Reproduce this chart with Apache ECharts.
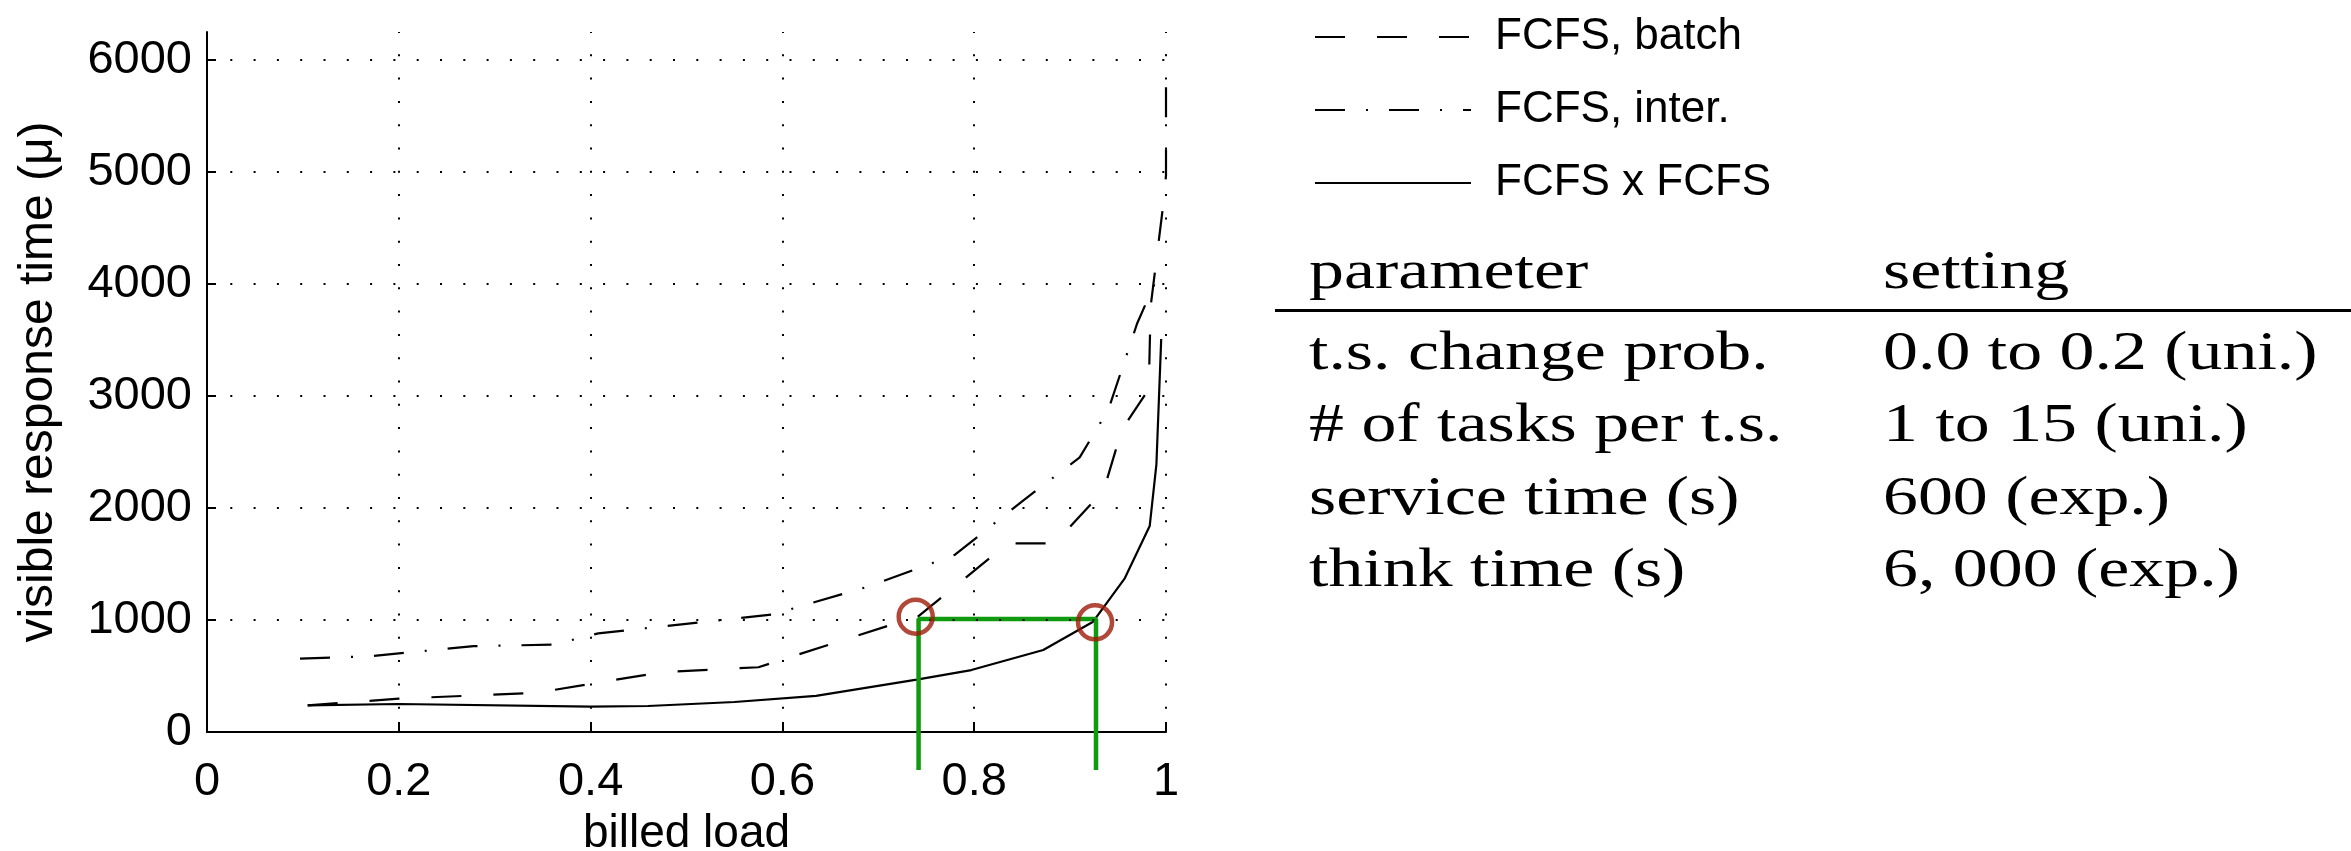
<!DOCTYPE html>
<html><head><meta charset="utf-8">
<script src="https://cdn.jsdelivr.net/npm/echarts@6/dist/echarts.min.js"></script>
<style>html,body{margin:0;padding:0;background:#fff;}#c{width:2351px;height:851px;}</style>
</head><body><div id="c"></div>
<script>
// ---- tick values / labels ----
const xTicks = [0, 0.2, 0.4, 0.6, 0.8, 1];
const yTicks = [0, 1000, 2000, 3000, 4000, 5000, 6000];
const xAxisTitle = 'billed load';
const yAxisTitle = 'visible response time (\u03bc)';

// ---- series ----
const seriesNames = ['FCFS, batch', 'FCFS, inter.', 'FCFS x FCFS'];
const batchLoad = [0.105, 0.2, 0.343, 0.475, 0.575, 0.742, 0.835, 0.884, 0.935, 0.954, 0.982, 0.984, 0.997, 1.0, 1.0];
const batchTime = [238, 298, 349, 535, 578, 1035, 1685, 1685, 2157, 2700, 3060, 3800, 4700, 4970, 6050];
const interLoad = [0.097, 0.17, 0.278, 0.361, 0.408, 0.59, 0.69, 0.78, 0.85, 0.91, 0.94, 0.97, 0.988];
const interTime = [655, 677, 766, 780, 881, 1050, 1300, 1583, 2060, 2452, 2880, 3650, 4000];
const fcfsLoad = [0.105, 0.2, 0.4, 0.46, 0.55, 0.635, 0.74, 0.797, 0.872, 0.924, 0.957, 0.983, 0.990, 0.995];
const fcfsTime = [238, 250, 226, 232, 268, 322, 468, 553, 732, 985, 1372, 1839, 2390, 3509];

// ---- annotations ----
const guideLoad = [0.742, 0.742, 0.927, 0.927];
const guideTime = [-340, 1010, 1010, -340];
const circleLoad = [0.739, 0.926];
const circleTime = [1030, 979];

// ---- side table ----
const tableHeader = ['parameter', 'setting'];
const paramNames = ['t.s. change prob.', '# of tasks per t.s.', 'service time (s)', 'think time (s)'];
const paramSettings = ['0.0 to 0.2 (uni.)', '1 to 15 (uni.)', '600 (exp.)', '6, 000 (exp.)'];

const zip = (a, b) => a.map((v, i) => [v, b[i]]);
const SANS = 'Liberation Sans';

const tableGraphics = [];
const col1 = 1309, col2 = 1883, scaleX = 1.27, tFont = '55px "Liberation Serif"';
function addText(t, x, baseline) {
  tableGraphics.push({
    type: 'text', x: x, y: baseline - 18.5, scaleX: scaleX, silent: true,
    style: { text: t, font: tFont, fill: '#000', align: 'left', verticalAlign: 'middle',
             textAlign: 'left', textVerticalAlign: 'middle' }
  });
}
addText(tableHeader[0], col1, 292);
addText(tableHeader[1], col2, 292);
tableGraphics.push({ type: 'line', silent: true,
  shape: { x1: 1275, y1: 310.5, x2: 2351, y2: 310.5 },
  style: { stroke: '#000', lineWidth: 3 } });
paramNames.forEach((n, i) => { addText(n, col1, 373 + i * 72.5); addText(paramSettings[i], col2, 373 + i * 72.5); });

const chart = echarts.init(document.getElementById('c'), null, { renderer: 'canvas' });
const lineBase = { type: 'line', symbol: 'none', showSymbol: false, animation: false, silent: true };

chart.setOption({
  animation: false,
  backgroundColor: '#fff',
  grid: { left: 207, right: 1185, top: 32, bottom: 119, containLabel: false, outerBoundsMode: 'none' },
  legend: {
    data: seriesNames, orient: 'vertical', left: 1309, top: 10,
    itemWidth: 156, itemHeight: 20, itemGap: 29, selectedMode: false,
    itemStyle: { color: 'rgba(0,0,0,0)', borderWidth: 0, opacity: 0 },
    textStyle: { fontSize: 44, fontFamily: SANS, color: '#000', padding: [0, 0, 0, 19] }
  },
  xAxis: {
    type: 'value', min: 0, max: 1, interval: 0.2,
    axisLine: { show: true, lineStyle: { color: '#000', width: 2 } },
    axisTick: { show: true, inside: true, length: 10, lineStyle: { color: '#000', width: 2 } },
    axisLabel: { fontSize: 47, fontFamily: SANS, color: '#000', margin: 27, formatter: v => String(v) },
    splitLine: { show: false },
    name: xAxisTitle, nameLocation: 'middle', nameGap: 74,
    nameTextStyle: { fontSize: 46, fontFamily: SANS, color: '#000' }
  },
  yAxis: {
    type: 'value', min: 0, max: 6250, interval: 1000,
    axisLine: { show: true, lineStyle: { color: '#000', width: 2 } },
    axisTick: { show: true, inside: true, length: 9, customValues: yTicks, lineStyle: { color: '#000', width: 2 } },
    axisLabel: { customValues: yTicks, fontSize: 47, fontFamily: SANS, color: '#000', margin: 15, formatter: v => String(v) },
    splitLine: { show: false },
    name: yAxisTitle, nameLocation: 'middle', nameGap: 144,
    nameTextStyle: { fontSize: 48, fontFamily: SANS, color: '#000' }
  },
  graphic: tableGraphics,
  series: [
    { ...lineBase, name: 'grid', data: [], z: 1,
      markLine: { silent: true, symbol: ['none', 'none'], label: { show: false }, animation: false,
        lineStyle: { color: '#000', width: 2, type: [2, 21.3] },
        emphasis: { disabled: true },
        data: [...yTicks.slice(1).map(v => ({ yAxis: v })), ...xTicks.slice(1).map(v => ({ xAxis: v }))] } },
    { ...lineBase, name: seriesNames[0], data: zip(batchLoad, batchTime), z: 3,
      lineStyle: { color: '#000', width: 2.2, type: [30, 32] }, itemStyle: { color: '#000' } },
    { ...lineBase, name: seriesNames[1], data: zip(interLoad, interTime), z: 3,
      lineStyle: { color: '#000', width: 2.2, type: [30, 21, 2, 21] }, itemStyle: { color: '#000' } },
    { ...lineBase, name: seriesNames[2], data: zip(fcfsLoad, fcfsTime), z: 3,
      lineStyle: { color: '#000', width: 2.2, type: 'solid' }, itemStyle: { color: '#000' } },
    { ...lineBase, name: 'guide', data: zip(guideLoad, guideTime), z: 4, clip: false,
      lineStyle: { color: '#109a10', width: 4.5 } },
    { type: 'scatter', name: 'marks', data: zip(circleLoad, circleTime), z: 5, silent: true, animation: false,
      symbol: 'circle', symbolSize: 34,
      itemStyle: { color: 'rgba(0,0,0,0)', borderColor: '#9c1c08', borderWidth: 4.5 } }
  ]
});
</script></body></html>
